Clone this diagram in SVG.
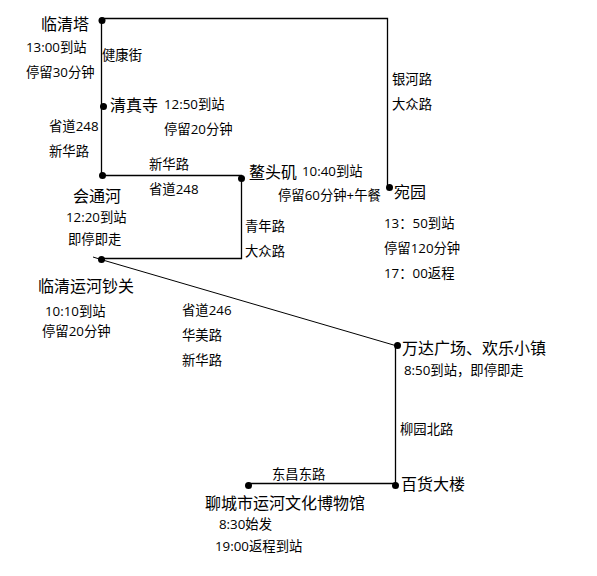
<svg xmlns="http://www.w3.org/2000/svg" width="597" height="576" viewBox="0 0 597 576">
<style>
text{font-family:"Open Sans","Noto Sans CJK SC","Noto Sans",sans-serif;fill:#000}
.n{font-size:16px}
.s{font-size:13.33px}
.l{fill:none;stroke:#000;stroke-width:1.3}
.t{fill:none;stroke:#000;stroke-width:1}
.d{fill:#000}
</style>
<rect width="597" height="576" fill="#fff"/>
<g id="connectors">
<path class="l" d="M387.500 186V18.500H101.500V175.500H241.500V258.500H101"/>
<path class="t" d="M93 257L101 259.500L397 346"/>
<path class="l" d="M395.500 346V483.500H248"/>
</g>
<g id="linqingta"><circle class="d" cx="102" cy="20.500" r="3.500"/><text class="n" x="41" y="30">临清塔</text><text class="s" x="26" y="52">13:00到站</text><text class="s" x="26" y="77">停留30分钟</text></g>
<g id="qingzhensi"><circle class="d" cx="103.500" cy="106.500" r="3.500"/><text class="n" x="110" y="111">清真寺</text><text class="s" x="164" y="109">12:50到站</text><text class="s" x="164" y="134">停留20分钟</text></g>
<g id="huitonghe"><circle class="d" cx="102.500" cy="175.500" r="3.500"/><text class="n" x="73" y="202">会通河</text><text class="s" x="66" y="222">12:20到站</text><text class="s" x="68" y="244">即停即走</text></g>
<g id="aotouji"><circle class="d" cx="241.500" cy="178.500" r="3.500"/><text class="n" x="249" y="178">鳌头矶</text><text class="s" x="302" y="176">10:40到站</text><text class="s" x="278" y="200">停留60分钟+午餐</text></g>
<g id="wanyuan"><circle class="d" cx="389.500" cy="187.500" r="3.500"/><text class="n" x="394" y="198">宛园</text><text class="s" x="384" y="228">13：50到站</text><text class="s" x="384" y="253">停留120分钟</text><text class="s" x="384" y="278">17：00返程</text></g>
<g id="chaoguan"><circle class="d" cx="101.500" cy="259.500" r="3.500"/><text class="n" x="38" y="292">临清运河钞关</text><text class="s" x="45" y="316">10:10到站</text><text class="s" x="42" y="336">停留20分钟</text></g>
<g id="wanda"><circle class="d" cx="397.500" cy="345.500" r="3.500"/><text class="n" x="402" y="354">万达广场、欢乐小镇</text><text class="s" x="404" y="375">8:50到站，即停即走</text></g>
<g id="baihuo"><circle class="d" cx="395.500" cy="485.500" r="3.500"/><text class="n" x="401" y="490">百货大楼</text></g>
<g id="museum"><circle class="d" cx="248.500" cy="485.500" r="3.500"/><text class="n" x="205" y="509">聊城市运河文化博物馆</text><text class="s" x="219" y="529">8:30始发</text><text class="s" x="215" y="551">19:00返程到站</text></g>
<g id="road-labels">
<text class="s" x="102" y="60">健康街</text>
<text class="s" x="49" y="131">省道248</text>
<text class="s" x="49" y="156">新华路</text>
<text class="s" x="149" y="169">新华路</text>
<text class="s" x="149" y="194">省道248</text>
<text class="s" x="245" y="231">青年路</text>
<text class="s" x="245" y="256">大众路</text>
<text class="s" x="392" y="84">银河路</text>
<text class="s" x="392" y="109">大众路</text>
<text class="s" x="182" y="315">省道246</text>
<text class="s" x="182" y="340">华美路</text>
<text class="s" x="182" y="365">新华路</text>
<text class="s" x="400" y="434">柳园北路</text>
<text class="s" x="272" y="479">东昌东路</text>
</g>
</svg>
